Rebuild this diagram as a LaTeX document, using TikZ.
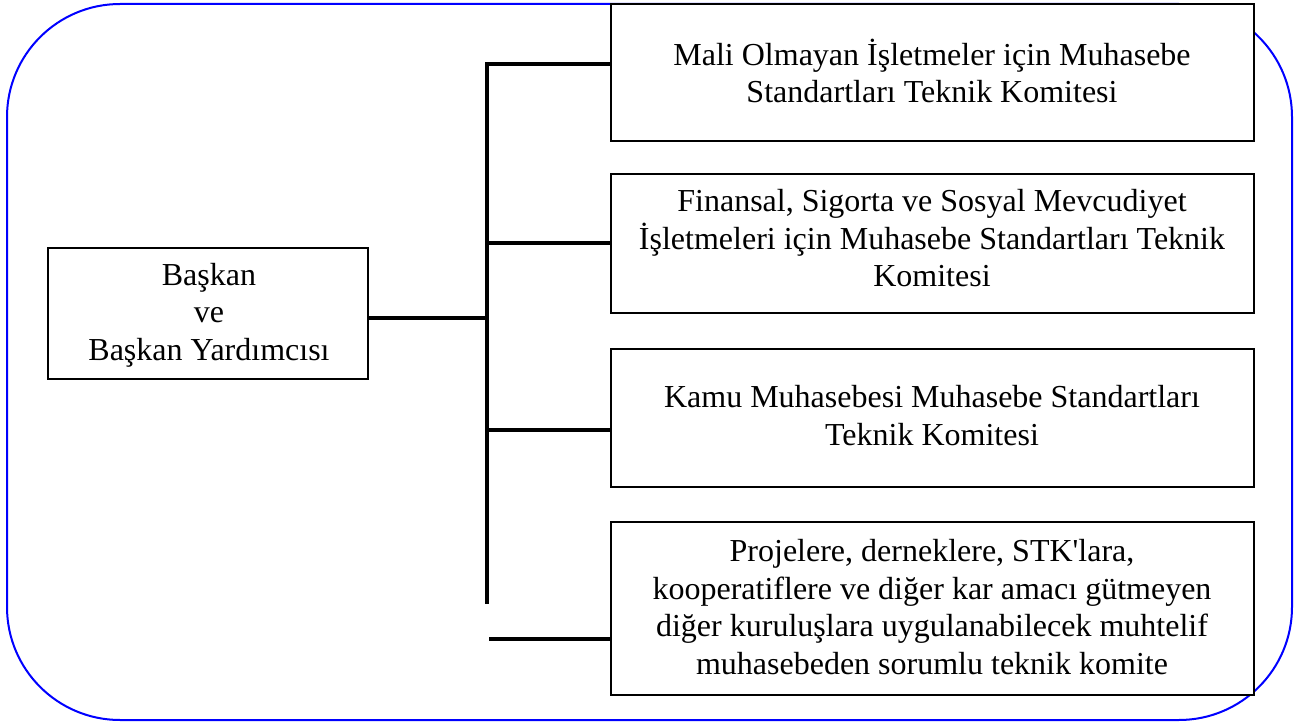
\documentclass[tikz,border=0pt]{standalone}
\usepackage{fontspec}
\setmainfont{Liberation Serif}
\usepackage{tikz}
\definecolor{frame}{HTML}{0000FF}

\begin{document}
\begin{tikzpicture}[x=1pt, y=-1pt,
    panel/.style={draw, line width=2pt, fill=white, inner sep=0pt},
    caption/.style={align=center, anchor=base, inner sep=0pt, font=\fontsize{32}{37.5}\selectfont},
    link/.style={line width=3.3pt}]
    % Fix the page size
    \useasboundingbox (0,0) rectangle (1307,722);

    % Draw the rounded blue frame
    \draw[line width=2pt, frame, rounded corners=113pt] (7,4) rectangle (1292,720);

    % Draw the chair box
    \node[panel, minimum width=320, minimum height=131] (chair) at (208,313.5) {};
    \node[caption] (chairtext) at (209,360) {Başkan\\ve\\Başkan Yardımcısı};

    % Draw the committee boxes
    \node[panel, minimum width=643, minimum height=137] (box1) at (932.5,72.5) {};
    \node[panel, minimum width=643, minimum height=139] (box2) at (932.5,243.5) {};
    \node[panel, minimum width=643, minimum height=138] (box3) at (932.5,418) {};
    \node[panel, minimum width=643, minimum height=173] (box4) at (932.5,608.5) {};

    % Write the committee names (anchored on the last line)
    \node[caption] (text1) at (932,103) {Mali Olmayan İşletmeler için Muhasebe\\Standartları Teknik Komitesi};
    \node[caption] (text2) at (932,287) {Finansal, Sigorta ve Sosyal Mevcudiyet\\İşletmeleri için Muhasebe Standartları Teknik\\Komitesi};
    \node[caption] (text3) at (932,445) {Kamu Muhasebesi Muhasebe Standartları\\Teknik Komitesi};
    \node[caption] (text4) at (932,674) {Projelere, derneklere, STK\textquotesingle lara,\\kooperatiflere ve diğer kar amacı gütmeyen\\diğer kuruluşlara uygulanabilecek muhtelif\\muhasebeden sorumlu teknik komite};

    % Junction points on the spine
    \coordinate (spinetop) at (487,64);
    \coordinate (spinebot) at (487,604);
    \coordinate (j0) at (487,318);
    \coordinate (j2) at (487,243);
    \coordinate (j3) at (487,430);
    \coordinate (j4) at (489,639);

    % Draw the spine and the links to the boxes
    \draw[link] (spinetop -| box1.west) -- (spinetop) -- (spinebot);
    \draw[link] (j0 -| chair.east) -- (j0);
    \draw[link] (j2) -- (j2 -| box2.west);
    \draw[link] (j3) -- (j3 -| box3.west);
    \draw[link] (j4) -- (j4 -| box4.west);

\end{tikzpicture}
\end{document}
